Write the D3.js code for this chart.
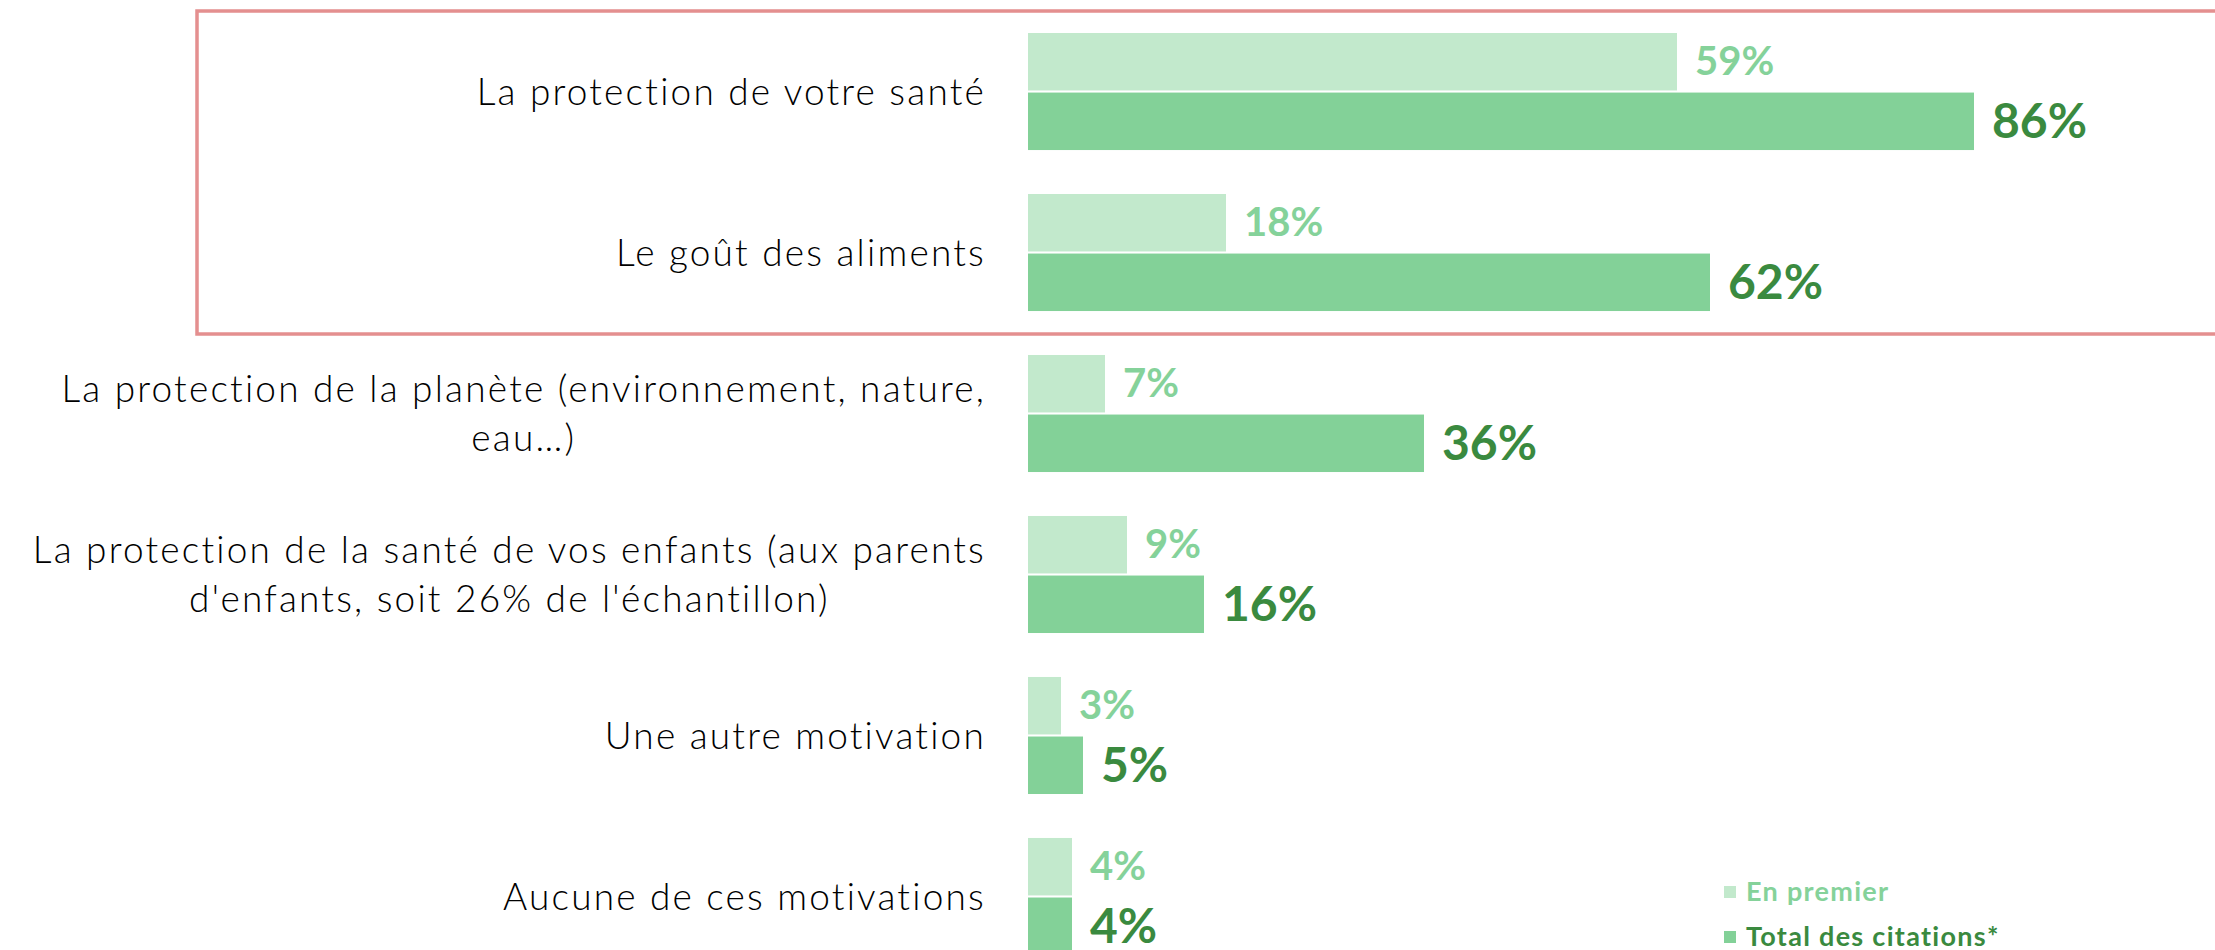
<!DOCTYPE html>
<html>
<head>
<meta charset="utf-8">
<script src="https://cdn.jsdelivr.net/npm/d3@7"></script>
<style>
    body { margin: 0; background: #fff; }
    svg { display: block; }
</style>
</head>
<body>
<div id="chart"></div>
<script>
// Data
var categories = [
    ["La protection de votre santé"],
    ["Le goût des aliments"],
    ["La protection de la planète (environnement, nature,", "eau…)"],
    ["La protection de la santé de vos enfants (aux parents", "d'enfants, soit 26% de l'échantillon)"],
    ["Une autre motivation"],
    ["Aucune de ces motivations"]
];
var firstValues = [59, 18, 7, 9, 3, 4];
var totalValues = [86, 62, 36, 16, 5, 4];
var seriesNames = ["En premier", "Total des citations*"];
var seriesKeys = ["first", "total"];

var width = 2215, height = 950;
var barColors = {first: "#c2e9cc", total: "#83d198"};
var textColors = {first: "#85d29a", total: "#3a8a3f"};

var rows = categories.map((lines, i) => ({
    key: lines.join(" "),
    lines: lines,
    first: firstValues[i],
    total: totalValues[i]
}));

var svg = d3.select('#chart').append('svg')
    .attr('width', width)
    .attr('height', height);

// Highlight box around the two first rows
svg.append('rect')
    .attr('x', 197)
    .attr('y', 11)
    .attr('width', 2100)
    .attr('height', 323)
    .attr('fill', 'none')
    .attr('stroke', '#e48f8f')
    .attr('stroke-width', 3.5);

// Scales setup
var yScale = d3.scaleBand()
    .domain(rows.map((d) => d.key))
    .range([33, 955])
    .paddingInner(0.273)
    .paddingOuter(0);

var ySub = d3.scaleBand()
    .domain(seriesKeys)
    .range([0, yScale.bandwidth()])
    .paddingInner(0.035);

var xScale = d3.scaleLinear().domain([0, 100]).range([1028, 2128]);

var group = svg.selectAll('g.row').data(rows).enter().append('g')
    .attr('class', 'row')
    .attr('transform', (d) => `translate(0,${yScale(d.key)})`);

// bars
group.selectAll('rect').data((d) => seriesKeys.map((k) => ({key: k, value: d[k]})))
    .enter().append('rect')
    .attr('x', xScale(0))
    .attr('y', (d) => ySub(d.key))
    .attr('width', (d) => xScale(d.value) - xScale(0))
    .attr('height', ySub.bandwidth())
    .attr('fill', (d) => barColors[d.key]);

// value labels
group.selectAll('text.val').data((d) => seriesKeys.map((k) => ({key: k, value: d[k]})))
    .enter().append('text')
    .attr('class', 'val')
    .attr('x', (d) => xScale(d.value) + 18)
    .attr('y', (d) => ySub(d.key) + ySub.bandwidth() / 2)
    .attr('dy', '0.34em')
    .attr('font-family', 'Lato, sans-serif')
    .attr('font-weight', 700)
    .attr('font-size', (d) => d.key === 'first' ? 40 : 48)
    .attr('fill', (d) => textColors[d.key])
    .text((d) => d.value + '%');

// category labels: lines centred on each other, block right aligned
var labelRight = 986, lineGap = 49;
group.each(function (d) {
    var g = d3.select(this);
    var n = d.lines.length;
    var t = g.append('text')
        .attr('class', 'cat')
        .attr('text-anchor', 'middle')
        .attr('font-family', 'Lato, sans-serif')
        .attr('font-weight', 300)
        .attr('font-size', 37)
        .attr('letter-spacing', 2.2)
        .attr('fill', '#000');
    t.selectAll('tspan').data(d.lines).enter().append('tspan')
        .attr('y', (l, i) => yScale.bandwidth() / 2 + (i - (n - 1) / 2) * lineGap)
        .attr('dy', '0.36em')
        .text((l) => l);
    var w = d3.max(t.selectAll('tspan').nodes(), (node) => node.getComputedTextLength());
    t.selectAll('tspan').attr('x', labelRight - w / 2);
});

// legend
var legend = svg.selectAll('g.legend').data(seriesKeys).enter().append('g')
    .attr('class', 'legend')
    .attr('transform', (d, i) => `translate(1724,${892 + i * 45})`);

legend.append('rect')
    .attr('x', 0)
    .attr('y', -6)
    .attr('width', 12)
    .attr('height', 12)
    .attr('fill', (d) => barColors[d]);

legend.append('text')
    .attr('x', 22)
    .attr('y', 0)
    .attr('dy', '0.34em')
    .attr('font-family', 'Lato, sans-serif')
    .attr('font-weight', 700)
    .attr('font-size', 27)
    .attr('letter-spacing', 1.3)
    .attr('fill', (d) => textColors[d])
    .text((d, i) => seriesNames[i]);
</script>
</body>
</html>
